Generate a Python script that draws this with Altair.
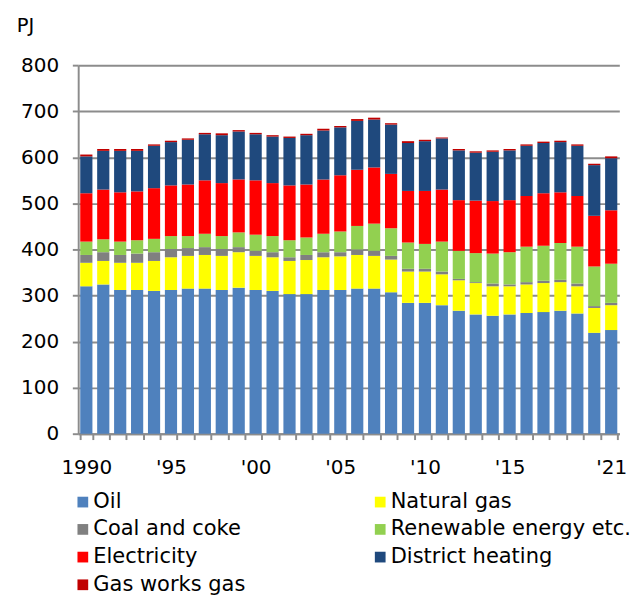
import altair as alt
import pandas as pd

years = list(range(1990, 2022))
sources = ["Oil", "Natural gas", "Coal and coke", "Renewable energy etc.",
           "Electricity", "District heating", "Gas works gas"]
colors = ["#4F81BD", "#FFFF00", "#808080", "#92D050", "#FF0000", "#1F497D", "#C00000"]

oil = [320, 324, 312, 312, 310, 312, 315, 315, 312, 317, 312, 310, 303, 303, 312, 312,
       315, 315, 307, 284, 284, 279, 267, 259, 256, 259, 262, 264, 267, 261, 219, 225]
natural_gas = [51, 51, 59, 59, 65, 71, 71, 73, 74, 77, 74, 73, 72, 74, 71, 73,
               73, 71, 71, 68, 68, 67, 66, 68, 64, 61, 62, 63, 62, 59, 54, 54]
coal = [17, 19, 17, 20, 19, 18, 17, 17, 15, 11, 11, 11, 8, 11, 11, 9,
        12, 11, 8, 6, 6, 6, 3, 2, 6, 4, 5, 5, 5, 6, 4, 5]
renewable = [29, 28, 29, 29, 29, 28, 26, 29, 28, 32, 35, 35, 37, 38, 40, 45,
             51, 59, 60, 57, 54, 65, 61, 63, 65, 70, 77, 76, 80, 80, 86, 85]
electricity = [105, 108, 107, 106, 110, 110, 112, 116, 115, 115, 118, 115, 119, 115, 118, 122,
               122, 122, 118, 112, 115, 113, 110, 114, 114, 113, 110, 114, 110, 110, 110, 116]
district_heating = [80, 84, 90, 88, 92, 94, 97, 100, 104, 104, 100, 101, 103, 107, 106, 104,
                    106, 104, 107, 104, 108, 111, 108, 104, 107, 108, 109, 109, 109, 109, 110, 113]
gas_works_gas = [4, 4, 4, 4, 3, 3, 3, 3, 4, 3, 3, 3, 3, 3, 4, 3,
                 4, 4, 3, 4, 3, 2, 3, 3, 3, 3, 3, 3, 3, 3, 3, 4]

tick_labels = {1990: "1990", 1995: "'95", 2000: "'00", 2005: "'05",
               2010: "'10", 2015: "'15", 2021: "'21"}

series = [oil, natural_gas, coal, renewable, electricity, district_heating, gas_works_gas]
rows = []
for i, (name, vals) in enumerate(zip(sources, series)):
    for y, v in zip(years, vals):
        rows.append({"year": y, "source": name, "value": v, "idx": i})
df = pd.DataFrame(rows)

label_expr = " : ".join(
    [f"datum.value == {k} ? \"{v}\"" for k, v in tick_labels.items()]
) + " : ''"

FONT = "DejaVu Sans"

chart = alt.Chart(df).mark_bar().encode(
    x=alt.X("year:O",
            scale=alt.Scale(paddingInner=0.28, paddingOuter=0.12),
            axis=alt.Axis(title=None, labelExpr=label_expr, labelAngle=0,
                          tickBand="extent", tickSize=6, labelPadding=19,
                          grid=False)),
    y=alt.Y("value:Q", stack="zero",
            scale=alt.Scale(domain=[0, 800], nice=False),
            axis=alt.Axis(title=None, values=list(range(0, 801, 100)),
                          tickSize=6, labelPadding=14, grid=True)),
    color=alt.Color("source:N",
                    scale=alt.Scale(domain=sources, range=colors),
                    legend=alt.Legend(title=None, orient="none", legendX=-6, legendY=437,
                                      direction="horizontal",
                                      columns=2, columnPadding=127, rowPadding=5.4,
                                      symbolType="square", symbolSize=121,
                                      symbolStrokeWidth=0, labelOffset=0,
                                      labelFontSize=21.5, labelFont=FONT, labelLimit=400,
                                      labelColor="#000000", padding=0)),
    order=alt.Order("idx:Q", sort="ascending"),
).properties(
    width=555, height=378,
    title=alt.TitleParams("PJ", anchor="start", frame="group", dx=-63, offset=20,
                          fontSize=20, font=FONT, fontWeight="normal", color="#000000"),
    padding={"left": 9, "top": 1, "right": 0, "bottom": 0},
).configure_axis(
    labelFont=FONT, labelFontSize=20.5, labelColor="#000000",
    domainColor="#8c8c8c", domainWidth=2,
    tickColor="#8c8c8c", tickWidth=2,
    gridColor="#8c8c8c", gridWidth=2,
).configure_view(stroke=None)

chart.save("out.html", embed_options={"renderer": "svg", "actions": False})
